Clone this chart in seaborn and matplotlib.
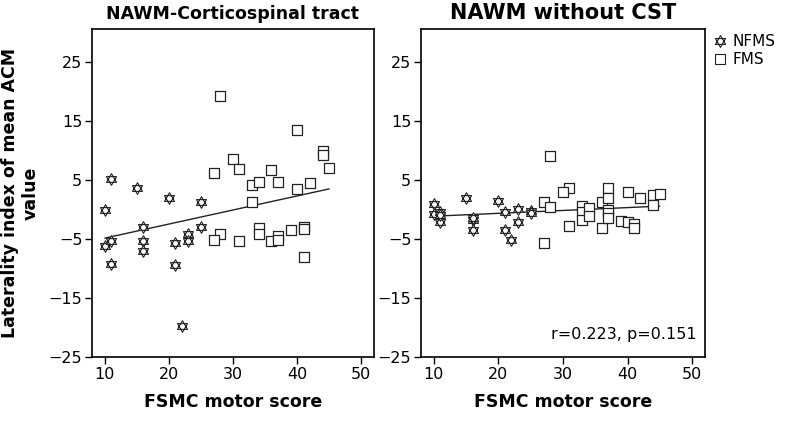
import numpy as np
import pandas as pd
import seaborn as sns
import matplotlib
matplotlib.use("Agg")
import matplotlib.pyplot as plt
from matplotlib.lines import Line2D
from matplotlib.path import Path

# ---- data ----
nfms_x = [10, 10, 11, 11, 11, 15, 16, 16, 16, 20, 21, 21, 22, 23, 23, 25, 25]
nfms_y_cst = [0.0, -6.1, 5.2, -5.3, -9.3, 3.6, -3.0, -5.3, -7.1, 1.9, -5.6, -9.4, -19.7, -4.2, -5.4, 1.2, -3.0]
nfms_y_other = [1.0, -0.8, -0.5, -2.1, -1.0, 1.9, -1.8, -3.5, -1.5, 1.5, -0.4, -3.4, -5.1, 0.1, -2.1, -0.2, -0.6]

fms_x_cst = [28, 40, 44, 44, 45, 30, 31, 27, 36, 33, 34, 37, 42, 40, 33, 34, 34, 28, 27, 31, 36, 37, 37, 39, 41, 41, 41]
fms_y_cst = [19.2, 13.4, 10.0, 9.2, 7.1, 8.5, 6.9, 6.2, 6.7, 4.1, 4.7, 4.7, 4.5, 3.4, 1.2, -3.2, -4.2, -4.2, -5.2, -5.3, -5.3, -4.5, -5.1, -3.5, -2.9, -3.3, -8.0]

fms_x_other = [28, 31, 30, 27, 28, 27, 31, 33, 33, 33, 34, 34, 36, 36, 37, 37, 37, 37, 37, 39, 40, 40, 41, 41, 42, 44, 44, 45]
fms_y_other = [9.0, 3.7, 2.9, 1.2, 0.5, -5.6, -2.8, 0.6, -0.5, -1.8, 0.2, -1.1, 1.2, -3.2, 3.6, 1.9, -0.1, -0.6, -1.4, -2.0, 3.0, -2.1, -2.4, -3.2, 1.9, 2.5, 0.8, 2.6]

titles = ["NAWM-Corticospinal tract", "NAWM without CST"]
xlabel = "FSMC motor score"
ylabel = "Laterality index of mean ACM\nvalue"
yticks = [-25, -15, -5, 5, 15, 25]
xticks = [10, 20, 30, 40, 50]
annot = "r=0.223, p=0.151"

sns.set_theme(style="white")
plt.rcParams["font.family"] = ["DejaVu Sans"]
plt.rcParams["text.color"] = "black"
plt.rcParams["axes.labelcolor"] = "black"
plt.rcParams["xtick.color"] = "black"
plt.rcParams["ytick.color"] = "black"

# Star-of-David style marker: two overlapping triangles
ang_up = np.deg2rad([90, 210, 330])
ang_dn = np.deg2rad([270, 30, 150])
verts = []
codes = []
for angs in (ang_up, ang_dn):
    pts = [(np.cos(a), np.sin(a)) for a in angs]
    verts += pts + [pts[0]]
    codes += [Path.MOVETO, Path.LINETO, Path.LINETO, Path.CLOSEPOLY]
star = Path(verts, codes)

fig = plt.figure(figsize=(7.87, 4.29), dpi=100)
ax1 = fig.add_axes([92/787, 1-357/429, (374-92)/787, (357-29)/429])
ax2 = fig.add_axes([421/787, 1-357/429, (705-421)/787, (357-29)/429])

edge = "#222222"

panels = [
    (ax1, nfms_x, nfms_y_cst, fms_x_cst, fms_y_cst),
    (ax2, nfms_x, nfms_y_other, fms_x_other, fms_y_other),
]
for i, (ax, nx, ny, fx, fy) in enumerate(panels):
    dn = pd.DataFrame({"x": nx, "y": ny})
    df = pd.DataFrame({"x": fx, "y": fy})
    sns.scatterplot(data=df, x="x", y="y", marker="s", s=58, facecolor="white",
                    edgecolor=edge, linewidth=0.9, ax=ax, zorder=3)
    sns.scatterplot(data=dn, x="x", y="y", marker=star, s=70, facecolor="white",
                    edgecolor=edge, linewidth=0.8, ax=ax, zorder=4)
    allxy = pd.concat([dn, df], ignore_index=True)
    sns.regplot(data=allxy, x="x", y="y", scatter=False, ci=None, ax=ax,
                line_kws=dict(color="#222222", lw=1.0, zorder=2))
    ax.set_xlim(8, 52)
    ax.set_ylim(-25, 30.6)
    ax.set_xticks(xticks)
    ax.set_yticks(yticks)
    ax.set_xticklabels([str(t) for t in xticks])
    ax.set_yticklabels([str(t).replace("-", "\u2212") for t in yticks])
    ax.tick_params(axis="both", which="both", direction="out", length=5, width=1,
                   color="black", labelsize=11.5, bottom=True, left=True, pad=2)
    for s in ax.spines.values():
        s.set_visible(True)
        s.set_color("black")
        s.set_linewidth(1.2)
    ax.set_xlabel(xlabel, fontsize=12.5, fontweight="bold", labelpad=8)
    ax.set_ylabel("")

ax1.set_title(titles[0], fontsize=12.5, fontweight="bold", pad=7)
ax2.set_title(titles[1], fontsize=15, fontweight="bold", pad=7)
ax1.set_ylabel(ylabel, fontsize=12.5, fontweight="bold", labelpad=6)

ax2.text(0.97, 0.045, annot, transform=ax2.transAxes, ha="right", va="bottom",
         fontsize=11.5, color="black")

handles = [
    Line2D([], [], marker=star, linestyle="none", markersize=8.5,
           markerfacecolor="white", markeredgecolor=edge, markeredgewidth=0.8, label="NFMS"),
    Line2D([], [], marker="s", linestyle="none", markersize=7,
           markerfacecolor="white", markeredgecolor=edge, markeredgewidth=0.8, label="FMS"),
]
fig.legend(handles=handles, loc="upper left", bbox_to_anchor=(708/787, 1-28/429),
           frameon=False, fontsize=11, handlelength=0.8, handletextpad=0.4,
           labelspacing=0.2, borderaxespad=0)

fig.savefig("out.png", dpi=100)
